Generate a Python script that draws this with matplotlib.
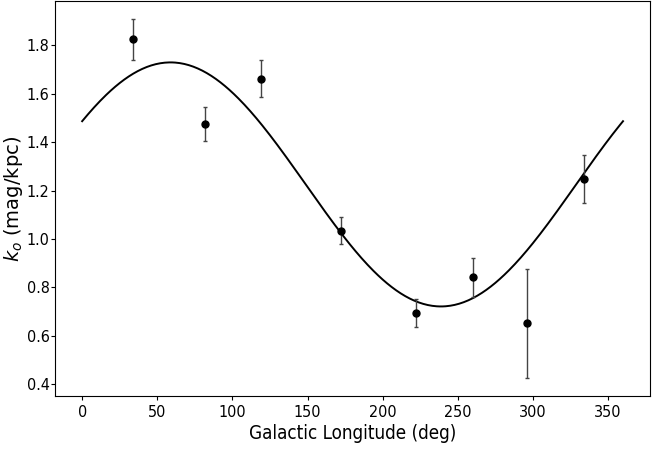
import matplotlib
matplotlib.use("Agg")
import matplotlib.pyplot as plt
from matplotlib import font_manager
import numpy as np

# measured extinction per longitude bin
longitude = [34, 82, 119, 172, 222, 260, 296, 334]
k_obs = [1.825, 1.475, 1.663, 1.034, 0.693, 0.841, 0.651, 1.248]
k_err = [0.085, 0.072, 0.076, 0.055, 0.058, 0.082, 0.226, 0.099]

# sinusoidal fit k = mean + amp*cos(l - l_peak)
fit_mean = 1.2255
fit_amp = 0.5045
fit_peak = 58.8

l_fit = np.linspace(0, 360, 361)
k_fit = fit_mean + fit_amp * np.cos(np.radians(l_fit - fit_peak))

# narrow face for ticks/xlabel if one is around
have_cond = any("Condensed" in f.fname or "Narrow" in f.fname
                for f in font_manager.fontManager.ttflist)
tick_size = 11.5 if have_cond else 10

fig = plt.figure(figsize=(6.64, 4.5), dpi=100)
ax = fig.add_axes([0.083, 0.12, 0.896, 0.878])
ax.plot(l_fit, k_fit, color="black", lw=1.4)
ax.errorbar(longitude, k_obs, yerr=k_err, fmt="o", color="black",
            ecolor="#444444", elinewidth=1, capsize=1.5, markersize=5)

ax.set_xlabel("Galactic Longitude (deg)", fontsize=13.5, fontstretch="condensed",
              labelpad=3)
ax.set_ylabel(r"$k_o$ (mag/kpc)", fontsize=14)
ax.yaxis.set_label_coords(-0.05, 0.5)
ax.set_xticks(np.arange(0, 351, 50))
ax.set_yticks(np.arange(0.4, 1.81, 0.2))
ax.tick_params(length=3)
ax.tick_params(axis="y", pad=1)
for lab in ax.get_xticklabels() + ax.get_yticklabels():
    lab.set_fontstretch("condensed")
    lab.set_fontsize(tick_size)

fig.savefig("out.png", dpi=100)
